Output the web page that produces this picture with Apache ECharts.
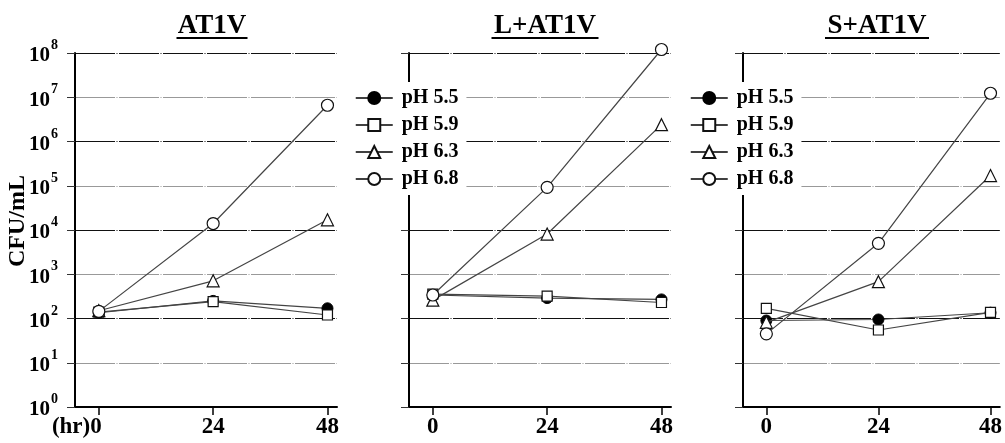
<!DOCTYPE html>
<html>
<head>
<meta charset="utf-8">
<script src="https://cdn.jsdelivr.net/npm/echarts@6/dist/echarts.min.js"></script>
<style>
  html, body { margin: 0; padding: 0; background: #fff; }
  #chart { width: 1005px; height: 443px; }
</style>
</head>
<body>
<div id="chart"></div>
<script>
// Sampling times (hours) and tick labels on the time axis
const hours = [0, 24, 48];

// Panel titles
const panels = ['AT1V', 'L+AT1V', 'S+AT1V'];
const seriesNames = ['pH 5.5', 'pH 5.9', 'pH 6.3', 'pH 6.8'];

// CFU/mL, AT1V
const at1v_ph55 = [135, 250, 170];
const at1v_ph59 = [140, 240, 120];
const at1v_ph63 = [150, 710, 17000];
const at1v_ph68 = [145, 14000, 6600000];

// CFU/mL, L+AT1V
const lat1v_ph55 = [340, 290, 270];
const lat1v_ph59 = [355, 320, 230];
const lat1v_ph63 = [260, 8100, 2400000];
const lat1v_ph68 = [340, 92000, 120000000];

// CFU/mL, S+AT1V
const sat1v_ph55 = [90, 95, 135];
const sat1v_ph59 = [170, 55, 138];
const sat1v_ph63 = [82, 680, 170000];
const sat1v_ph68 = [45, 5000, 12300000];

const panelData = [
  [at1v_ph55, at1v_ph59, at1v_ph63, at1v_ph68],
  [lat1v_ph55, lat1v_ph59, lat1v_ph63, lat1v_ph68],
  [sat1v_ph55, sat1v_ph59, sat1v_ph63, sat1v_ph68]
];

const FONT = '"Liberation Serif", "Times New Roman", serif';

const gridLefts = [75, 409, 743];
const titleCenters = [207, 540, 872];
const underlineWidths = [71, 107, 104];

const markerStyles = [
  { symbol: 'circle', symbolSize: 11, itemStyle: { color: '#000', borderColor: '#000', borderWidth: 1 } },
  { symbol: 'rect', symbolSize: 10, itemStyle: { color: '#fff', borderColor: '#111', borderWidth: 1.2 } },
  { symbol: 'triangle', symbolSize: 12, itemStyle: { color: '#fff', borderColor: '#111', borderWidth: 1.2 } },
  { symbol: 'circle', symbolSize: 12, itemStyle: { color: '#fff', borderColor: '#111', borderWidth: 1.2 } }
];

const grids = gridLefts.map(l => ({ left: l, top: 53, width: 262, height: 354 }));

const xAxes = gridLefts.map((_, i) => ({
  type: 'value', gridIndex: i, min: -5, max: 50,
  axisLine: { show: true, onZero: false, lineStyle: { color: '#000', width: 2 } },
  axisTick: { show: true, length: 8, customValues: hours, lineStyle: { color: '#000', width: 1.5 } },
  splitLine: { show: false },
  axisLabel: {
    customValues: hours, margin: 9,
    color: '#000', fontFamily: FONT, fontWeight: 'bold', fontSize: 23,
    formatter: v => (i === 0 && v === 0) ? '{h|(hr)}{n|0}{p|}' : String(v),
    rich: {
      h: { fontFamily: FONT, fontWeight: 'bold', fontSize: 23, color: '#000' },
      n: { fontFamily: FONT, fontWeight: 'bold', fontSize: 23, color: '#000' },
      p: { width: 44 }
    }
  }
}));

const yAxes = gridLefts.map((_, i) => ({
  type: 'log', logBase: 10, gridIndex: i, min: 1, max: 1e8, splitNumber: 8,
  name: i === 0 ? 'CFU/mL' : '',
  nameLocation: 'middle', nameRotate: 90, nameGap: 45, nameMoveOverlap: false,
  nameTextStyle: { fontFamily: FONT, fontWeight: 'bold', fontSize: 24, color: '#000', padding: [0, 0, 0, 18] },
  axisLine: { show: true, onZero: false, lineStyle: { color: '#000', width: 2 } },
  axisTick: { show: true, length: 8, lineStyle: { color: '#333', width: 1 } },
  splitLine: { show: true, lineStyle: { color: ['#111', '#999'], width: 1.2, type: [40, 1.5, 1, 1.5] } },
  axisLabel: {
    show: i === 0, margin: 17,
    formatter: v => '{b|10}{s|' + Math.round(Math.log10(v)) + '}',
    rich: {
      b: { fontFamily: FONT, fontWeight: 'bold', fontSize: 21, color: '#000', padding: [6, 0, 0, 0] },
      s: { fontFamily: FONT, fontWeight: 'bold', fontSize: 14, color: '#000', padding: [0, 0, 15, 1] }
    }
  }
}));

const series = [];
panelData.forEach((group, gi) => {
  group.forEach((vals, si) => {
    series.push(Object.assign({
      type: 'line', name: seriesNames[si],
      xAxisIndex: gi, yAxisIndex: gi,
      data: vals.map((v, k) => [hours[k], v]),
      clip: false,
      lineStyle: { color: '#444', width: 1.2 },
      z: 2 + si
    }, markerStyles[si]));
  });
});

const titles = panels.map((t, i) => ({
  text: '{t|' + t + '}\n{u|}',
  left: titleCenters[i], top: 11, textAlign: 'center',
  textStyle: {
    rich: {
      t: { fontFamily: FONT, fontWeight: 'bold', fontSize: 27, color: '#000', lineHeight: 20 },
      u: { width: underlineWidths[i], height: 2, lineHeight: 4, backgroundColor: '#000' }
    }
  }
}));

const legendCommon = {
  orient: 'vertical', top: 82,
  data: seriesNames,
  itemWidth: 37, itemHeight: 15, itemGap: 7,
  backgroundColor: '#fff',
  padding: [6, 8, 6, 3],
  lineStyle: { color: '#000', width: 1.5 },
  textStyle: { fontFamily: FONT, fontWeight: 'bold', fontSize: 20, color: '#000', padding: [0, 0, 0, 4] },
  selectedMode: false,
  z: 10
};

const option = {
  animation: false,
  backgroundColor: '#fff',
  title: titles,
  grid: grids,
  xAxis: xAxes,
  yAxis: yAxes,
  legend: [
    Object.assign({ left: 352 }, legendCommon),
    Object.assign({ left: 687 }, legendCommon)
  ],
  series: series
};

const chart = echarts.init(document.getElementById('chart'), null, { renderer: 'canvas' });
chart.setOption(option);
</script>
</body>
</html>
